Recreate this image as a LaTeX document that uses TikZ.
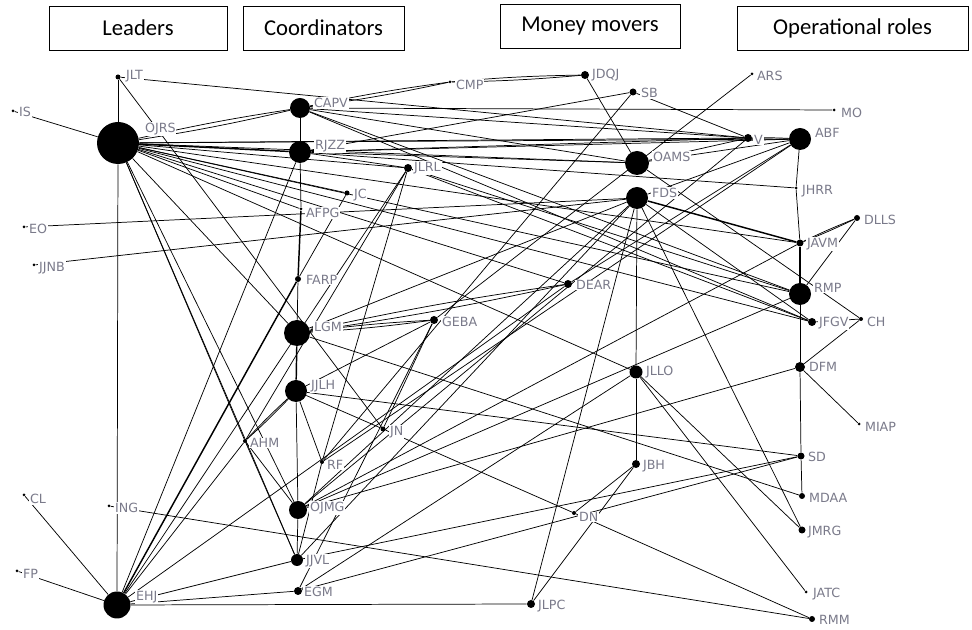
\documentclass[tikz,border=0pt]{standalone}
\usepackage{fontspec}
\setmainfont{DejaVu Sans}
\newfontfamily\hdrfont{Carlito}
\pgfdeclarelayer{background}
\pgfsetlayers{background,main}
\definecolor{labgray}{RGB}{122,122,138}
% \pnode{name}{x}{y}{dot diameter}{label x}{label y}
\newcommand\pnode[6]{%
  \node[dot={#4*0.75pt}] (#1) at (#2,#3) {};
  \node[lab] (#1-l) at (#5,#6) {#1};}
\begin{document}
\begin{tikzpicture}[x=0.75pt,y=-0.75pt,
  dot/.style={circle,fill=black,draw=none,inner sep=0pt,minimum size=#1},
  lab/.style={anchor=west,inner sep=0.6pt,fill=white,text=labgray,font=\fontsize{9.5}{10}\selectfont},
  hdr/.style={draw=black,line width=0.7pt,fill=white,inner sep=0pt,font=\hdrfont\fontsize{17}{18}\selectfont},
  edge/.style={line width=0.55pt,black},
  heavy/.style={line width=1.1pt,black}]
\useasboundingbox (0,0) rectangle (972,630);

% group headers
\node[hdr,minimum width=133.5pt,minimum height=33pt] (hLead) at (138,28) {Leaders};
\node[hdr,minimum width=120.75pt,minimum height=33pt] (hCoord) at (323.5,28) {Coordinators};
\node[hdr,minimum width=135pt,minimum height=33pt] (hMoney) at (590,26) {Money movers};
\node[hdr,minimum width=173.25pt,minimum height=33pt] (hOps) at (852.5,28) {Operational roles};

% leaders and their contacts
\pnode{JLT}{118}{77}{5}{125}{76}
\pnode{IS}{13}{111}{3}{18}{112}
\pnode{OJRS}{118}{143}{42}{144}{129}
\pnode{EO}{24}{227}{3}{28}{229}
\pnode{JJNB}{34}{265}{3}{38}{268}
\pnode{CL}{24}{495}{3}{29}{499}
\pnode{FP}{17}{571}{3}{22}{574}
\pnode{ING}{109}{506}{3}{114}{508}
\pnode{AHM}{245}{441}{4}{249}{443}
\pnode{EHJ}{117}{605}{27}{135}{597}

% coordinators
\pnode{CAPV}{300}{108}{20}{313}{103}
\pnode{RJZZ}{300}{152}{22}{314}{146}
\pnode{JLRL}{408}{168}{8}{413}{168}
\pnode{JC}{347}{193}{5}{353}{195}
\pnode{AFPG}{301}{209}{3}{305}{213}
\pnode{FARP}{298}{279}{6}{305}{280}
\pnode{LGM}{297}{333}{26}{313}{327}
\pnode{JJLH}{296}{391}{22}{310}{386}
\pnode{RF}{322}{462}{4}{326}{465}
\pnode{OJMG}{298}{510}{18}{309}{508}
\pnode{JJVL}{297}{560}{12}{305}{561}
\pnode{EGM}{298}{591}{8}{303}{592}
\pnode{CMP}{450}{82}{3}{455}{85}
\pnode{JDQJ}{585}{75}{8}{591}{75}
\pnode{GEBA}{434}{320}{8}{441}{322}
\pnode{JN}{383}{429}{5}{389}{432}
\pnode{DEAR}{568}{284}{8}{575}{285}
\pnode{DN}{574}{513}{4}{578}{517}
\pnode{JLPC}{531}{604}{8}{537}{606}

% money movers
\pnode{SB}{633}{92}{7}{640}{93}
\pnode{ARS}{752}{74}{3}{756}{76}
\pnode{OAMS}{637}{163}{24}{652}{157}
\pnode{FDS}{637}{198}{22}{651}{193}
\pnode{JLLO}{636}{372}{13}{645}{372}
\pnode{JBH}{636}{464}{8}{642}{466}
\pnode{MO}{834}{110}{3}{840}{113}

% operational roles
\pnode{V}{748}{138}{8}{753}{140}
\pnode{ABF}{800}{139}{22}{814}{133}
\pnode{JHRR}{796}{188}{3}{801}{191}
\pnode{DLLS}{857}{218}{6}{863}{220}
\pnode{JAVM}{800}{243}{7}{806}{244}
\pnode{RMP}{800}{294}{22}{813}{288}
\pnode{JFGV}{812}{322}{8}{818}{323}
\pnode{CH}{861}{319}{4}{866}{322}
\pnode{DFM}{800}{367}{10}{808}{367}
\pnode{MIAP}{859}{424}{3}{864}{427}
\pnode{SD}{801}{456}{7}{807}{457}
\pnode{MDAA}{802}{496}{6}{808}{498}
\pnode{JMRG}{802}{530}{7}{807}{532}
\pnode{JATC}{806}{592}{3}{812}{594}
\pnode{RMM}{812}{619}{6}{818}{620}

\begin{pgfonlayer}{background}
% single ties
\foreach \a/\b in {OJRS/JLT, OJRS/EHJ, OJRS/IS, JLT/V, JLT/JN,
  OJRS/V, OJRS/ABF, OJRS/OAMS, OJRS/JLRL, OJRS/JC, OJRS/AFPG, OJRS/JAVM,
  OJRS/JFGV, OJRS/RMP, OJRS/LGM, OJRS/DEAR, OJRS/JLLO, OJRS/OJMG, OJRS/JJVL, OJRS/AHM,
  EHJ/CL, EHJ/FP, EHJ/JJVL, EHJ/EGM, EHJ/JLPC, EHJ/AHM, EHJ/RJZZ, EHJ/DEAR, EHJ/JLRL,
  CAPV/RJZZ, RJZZ/AFPG, FARP/LGM, JJLH/OJMG, OJMG/JJVL,
  CAPV/MO, CAPV/V, CAPV/OAMS, CAPV/JFGV, CAPV/RMP,
  RJZZ/V, RJZZ/ABF, RJZZ/OAMS, RJZZ/JLRL, RJZZ/SB, RJZZ/JHRR,
  JLRL/RMP, JLRL/JFGV, JLRL/RF, JLRL/AHM,
  JC/FARP, LGM/MDAA, LGM/FDS,
  JJLH/RF, JJLH/JN, JJLH/SD, JJLH/GEBA,
  AHM/OJMG, AHM/JJVL, RF/JJVL,
  OJMG/JAVM, OJMG/RMP, OJMG/DFM, OJMG/V,
  JJVL/SD, JJVL/FDS, EGM/SD, EGM/JLLO, EGM/GEBA,
  GEBA/JN, ARS/GEBA, JN/DN, DN/RMM, DN/JBH, ING/RMM,
  JLPC/FDS, JLPC/JBH,
  JDQJ/OAMS, SB/V, SB/RF, OAMS/V, OAMS/ABF, OAMS/CH,
  FDS/JLLO, JLLO/JBH, FDS/ABF, FDS/JFGV, FDS/JMRG, FDS/OJMG,
  EO/FDS, JJNB/FDS, JLLO/JATC, JLLO/JMRG,
  ABF/JHRR, JHRR/JAVM, RMP/DFM, DFM/SD, SD/MDAA,
  ABF/RF, ABF/DEAR, DLLS/RMP, CH/JFGV, CH/DFM, DFM/MIAP}
  \draw[edge] (\a) -- (\b);
% strong ties
\foreach \a/\b in {OJRS/RJZZ, AFPG/FARP, LGM/JJLH, JAVM/RMP, FDS/JAVM, EHJ/FARP}
  \draw[heavy] (\a) -- (\b);
% reciprocal ties
\foreach \a/\b in {OJRS/CAPV, CAPV/CMP, CMP/JDQJ, LGM/GEBA, LGM/DEAR, JJLH/AHM, V/ABF, DLLS/JAVM}
  {\draw[edge] (\a) to[bend left=2] (\b);
   \draw[edge] (\a) to[bend right=2] (\b);}
\end{pgfonlayer}
\end{tikzpicture}
\end{document}
